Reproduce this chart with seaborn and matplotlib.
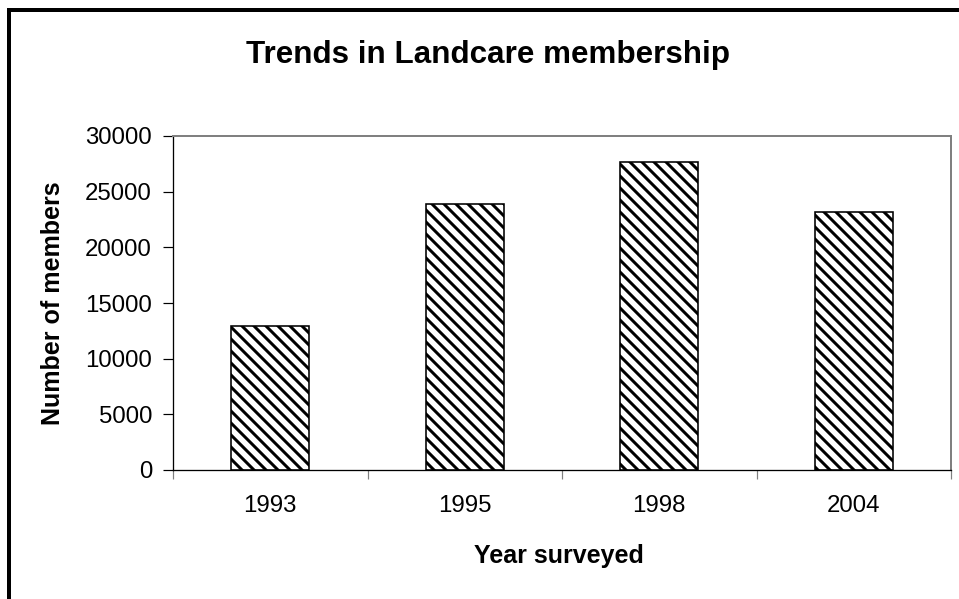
import matplotlib
matplotlib.use("Agg")
import matplotlib.pyplot as plt
import seaborn as sns

years = ["1993", "1995", "1998", "2004"]
members = [12900, 23900, 27700, 23200]
y_ticks = [0, 5000, 10000, 15000, 20000, 25000, 30000]

sns.set_theme(style="white")
plt.rcParams["font.family"] = ["Liberation Sans", "DejaVu Sans"]
plt.rcParams["hatch.linewidth"] = 3
plt.rcParams["hatch.color"] = "black"
for key in ["text.color", "axes.labelcolor", "xtick.color", "ytick.color"]:
    plt.rcParams[key] = "black"

# dpi 72 -> 1 pt == 1 px
fig = plt.figure(figsize=(959 / 72, 599 / 72), dpi=72)
ax = fig.add_axes([173 / 959, 1 - 470 / 599, 778 / 959, 334 / 599])

sns.barplot(x=years, y=members, ax=ax, width=0.4, color="white",
            edgecolor="black", linewidth=1.6, hatch="\\\\", saturation=1)

ax.set_ylim(0, 30000)
ax.set_xlim(-0.5, len(years) - 0.5)
ax.set_yticks(y_ticks)
ax.set_yticklabels([str(t) for t in y_ticks])
ax.tick_params(axis="y", which="major", direction="out", length=10, width=1.2,
               color="black", pad=11, labelsize=24, left=True)

# category labels centred, tick marks between categories (Excel style)
ax.set_xticks(range(len(years)))
ax.set_xticklabels(years)
ax.set_xticks([i - 0.5 for i in range(len(years) + 1)], minor=True)
ax.tick_params(axis="x", which="major", length=0, pad=25, labelsize=24)
ax.tick_params(axis="x", which="minor", direction="out", length=9, width=1.2,
               color="#808080", bottom=True)

for side in ["top", "right"]:
    ax.spines[side].set_color("#808080")
    ax.spines[side].set_linewidth(2)
for side in ["left", "bottom"]:
    ax.spines[side].set_color("black")
    ax.spines[side].set_linewidth(1.3)

ax.set_xlabel("Year surveyed", fontsize=25, fontweight="bold", va="baseline")
ax.xaxis.set_label_coords(0.496, -(563 - 470) / 334)
ax.set_ylabel("Number of members", fontsize=25, fontweight="bold", va="center")
ax.yaxis.set_label_coords(-(173 - 53) / 778, 0.5)

fig.text(487.5 / 959, 1 - 63 / 599, "Trends in Landcare membership",
         fontsize=31.4, fontweight="bold", ha="center", va="baseline")

# outer chart frame (only top and left edges show in the crop)
fig.add_artist(plt.Rectangle((9 / 959, -0.2), 1.5, 1.2 - 10.5 / 599,
                             transform=fig.transFigure, fill=False,
                             lw=4, ec="black", clip_on=False))

fig.savefig("out.png", dpi=72, facecolor="white")
